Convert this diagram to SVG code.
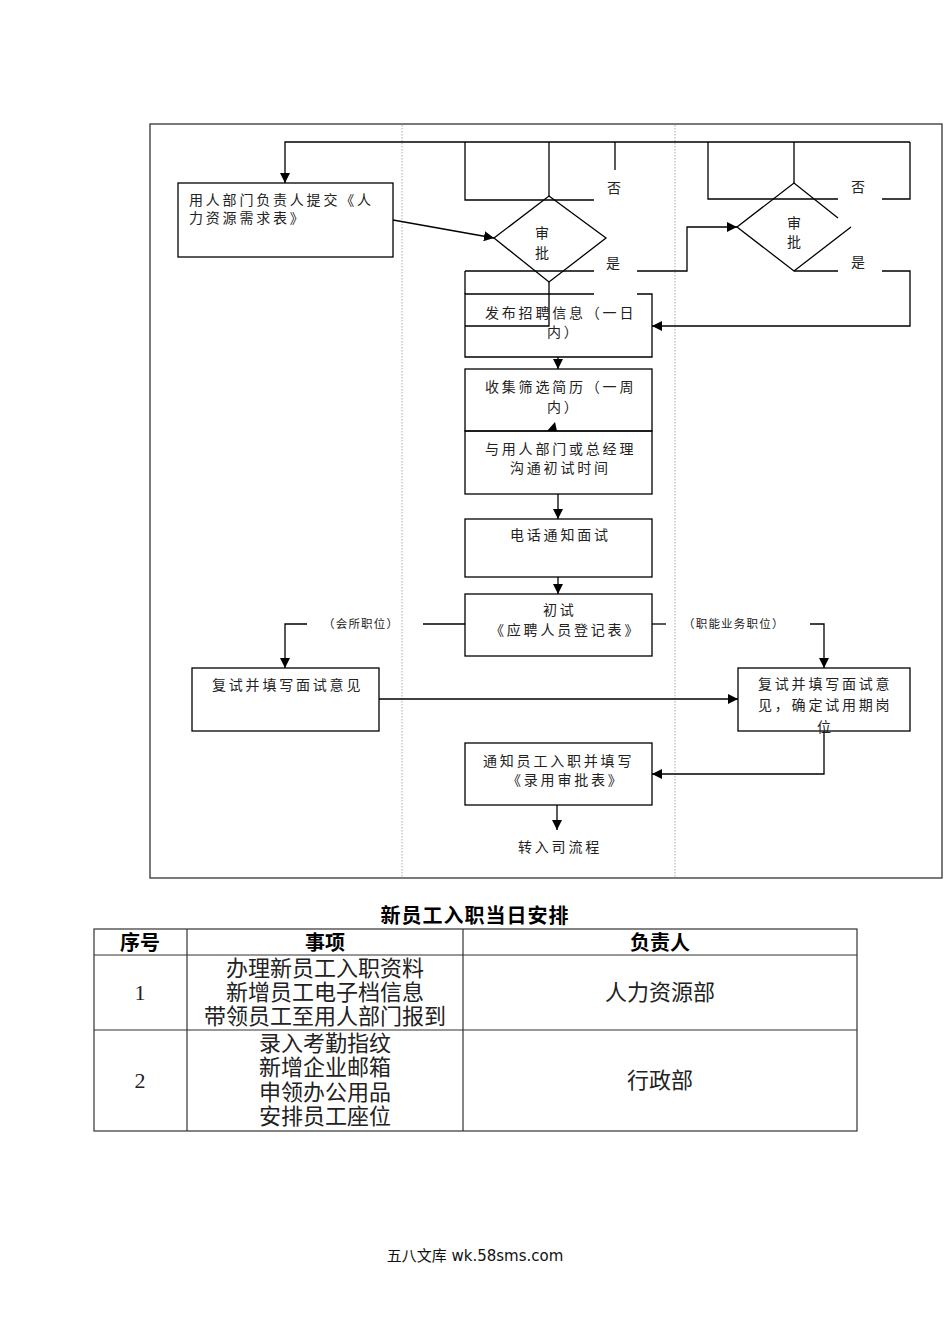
<svg xmlns="http://www.w3.org/2000/svg" width="950" height="1344" viewBox="0 0 950 1344">
<style>
.box{fill:none;stroke:#000;stroke-width:1.3}
.ln{fill:none;stroke:#000;stroke-width:1.3}
.lane{stroke:#aaa;stroke-width:1;stroke-dasharray:1.5,1.5}
.t{font-family:"Noto Sans CJK SC",sans-serif;font-size:14px;letter-spacing:2.8px;fill:#222}
.lb{font-family:"Noto Sans CJK SC",sans-serif;font-size:11.5px;letter-spacing:1.2px;fill:#222}
.tt{font-family:"Noto Sans CJK SC",sans-serif;font-size:20px;font-weight:bold;fill:#000}
.tc{font-family:"Liberation Serif","Noto Sans CJK SC",serif;font-size:22px;fill:#222}
.tb{stroke:#333;stroke-width:1.2;fill:none}
.ft{font-family:"DejaVu Sans","Noto Sans CJK SC",sans-serif;font-size:15px;fill:#111}
</style>
<defs>
<marker id="ar" viewBox="0 0 10 10" refX="10" refY="5" markerWidth="10" markerHeight="10" markerUnits="userSpaceOnUse" orient="auto">
<path d="M0,0 L10,5 L0,10 z" fill="#000"/>
</marker>
</defs>
<rect x="150" y="124" width="792" height="754" fill="none" stroke="#333" stroke-width="1.3"/>
<line class="lane" x1="402" y1="125" x2="402" y2="877"/>
<line class="lane" x1="675" y1="125" x2="675" y2="877"/>

<g id="connectors">
<path class="ln" d="M910,142 H285 V183" marker-end="url(#ar)"/>
<path class="ln" d="M465,142 V200 H594"/>
<path class="ln" d="M549,142 V196"/>
<path class="ln" d="M615,142 V170"/>
<path class="ln" d="M393,220 L494,238" marker-end="url(#ar)"/>
<path class="ln" d="M465,271 H594"/>
<path class="ln" d="M637,271 H687 V227 H737" marker-end="url(#ar)"/>
<path class="ln" d="M465,271 V294"/>
<path class="ln" d="M465,326 H549 V282"/>
<path class="ln" d="M708,142 V199 H838"/>
<path class="ln" d="M882,199 H910 V142"/>
<path class="ln" d="M794,142 V183"/>
<path class="ln" d="M794,271 H838"/>
<path class="ln" d="M882,271 H910 V326 H652" marker-end="url(#ar)"/>
<path class="ln" d="M558,357 V369" marker-end="url(#ar)"/>
<path d="M547,431 L557,431 L555,422 z" fill="#000"/>
<path class="ln" d="M558,494 V519" marker-end="url(#ar)"/>
<path class="ln" d="M558,577 V594" marker-end="url(#ar)"/>
<path class="ln" d="M465,624 H423"/>
<path class="ln" d="M307,624 H285 V668" marker-end="url(#ar)"/>
<path class="ln" d="M652,624 H666"/>
<path class="ln" d="M810,624 H824 V668" marker-end="url(#ar)"/>
<path class="ln" d="M379,699 H738" marker-end="url(#ar)"/>
<path class="ln" d="M824,731 V774 H652" marker-end="url(#ar)"/>
<path class="ln" d="M557,805 V830" marker-end="url(#ar)"/>
</g>

<g id="n-request">
<rect class="box" x="178" y="183" width="215" height="74"/>
<text class="t" x="189" y="205">用人部门负责人提交《人</text>
<text class="t" x="189" y="223">力资源需求表》</text>
</g>

<g id="n-approve1">
<path class="box" d="M549,196 L606,238 L549,282 L494,238 Z"/>
<text class="t" x="535" y="238">审</text>
<text class="t" x="535" y="258">批</text>
<text class="t" x="607" y="193">否</text>
<text class="t" x="606" y="268">是</text>
</g>

<g id="n-approve2">
<path class="box" d="M838,218 L794,183 L737,227 L794,271 L851,227"/>
<text class="t" x="787" y="228">审</text>
<text class="t" x="787" y="247">批</text>
<text class="t" x="851" y="192">否</text>
<text class="t" x="851" y="267">是</text>
</g>

<g id="n-publish">
<path class="box" d="M594,294 H465 V357 H652 V294 H637"/>
<text class="t" x="485" y="318">发布招聘信息（一日</text>
<text class="t" x="547" y="337">内）</text>
</g>

<g id="n-collect">
<rect class="box" x="465" y="369" width="187" height="62"/>
<text class="t" x="485" y="392">收集筛选简历（一周</text>
<text class="t" x="547" y="412">内）</text>
</g>

<g id="n-communicate">
<rect class="box" x="465" y="431" width="187" height="63"/>
<text class="t" x="485" y="454">与用人部门或总经理</text>
<text class="t" x="510" y="473">沟通初试时间</text>
</g>

<g id="n-phone">
<rect class="box" x="465" y="519" width="187" height="58"/>
<text class="t" x="510" y="540">电话通知面试</text>
</g>

<g id="n-first">
<rect class="box" x="465" y="594" width="187" height="62"/>
<text class="t" x="543" y="615">初试</text>
<text class="t" x="490" y="635">《应聘人员登记表》</text>
</g>

<g id="lbl-left"><text class="lb" x="323" y="628">（会所职位）</text></g>
<g id="lbl-right"><text class="lb" x="683" y="628">（职能业务职位）</text></g>

<g id="n-second-left">
<rect class="box" x="192" y="668" width="187" height="63"/>
<text class="t" x="212" y="690">复试并填写面试意见</text>
</g>

<g id="n-second-right">
<rect class="box" x="738" y="668" width="172" height="63"/>
<text class="t" x="758" y="689">复试并填写面试意</text>
<text class="t" x="758" y="710">见，确定试用期岗</text>
<text class="t" x="817" y="732">位</text>
</g>

<g id="n-notify">
<rect class="box" x="465" y="743" width="187" height="62"/>
<text class="t" x="483" y="766">通知员工入职并填写</text>
<text class="t" x="507" y="785">《录用审批表》</text>
</g>

<g id="n-transfer">
<text class="t" x="518" y="852">转入司流程</text>
</g>

<g id="table">
<text class="tt" x="475" y="923" text-anchor="middle" letter-spacing="1">新员工入职当日安排</text>
<rect class="tb" x="94" y="929" width="763" height="202"/>
<line class="tb" x1="94" y1="955" x2="857" y2="955"/>
<line class="tb" x1="94" y1="1030" x2="857" y2="1030"/>
<line class="tb" x1="187" y1="929" x2="187" y2="1131"/>
<line class="tb" x1="463" y1="929" x2="463" y2="1131"/>
<text class="tt" x="140" y="950" text-anchor="middle">序号</text>
<text class="tt" x="325" y="950" text-anchor="middle">事项</text>
<text class="tt" x="660" y="950" text-anchor="middle">负责人</text>
<text class="tc" x="140" y="1000" text-anchor="middle">1</text>
<text class="tc" x="325" y="976" text-anchor="middle">办理新员工入职资料</text>
<text class="tc" x="325" y="1000" text-anchor="middle">新增员工电子档信息</text>
<text class="tc" x="325" y="1024" text-anchor="middle">带领员工至用人部门报到</text>
<text class="tc" x="660" y="1000" text-anchor="middle">人力资源部</text>
<text class="tc" x="140" y="1088" text-anchor="middle">2</text>
<text class="tc" x="325" y="1051" text-anchor="middle">录入考勤指纹</text>
<text class="tc" x="325" y="1075" text-anchor="middle">新增企业邮箱</text>
<text class="tc" x="325" y="1100" text-anchor="middle">申领办公用品</text>
<text class="tc" x="325" y="1124" text-anchor="middle">安排员工座位</text>
<text class="tc" x="660" y="1088" text-anchor="middle">行政部</text>
</g>

<g id="footer">
<text class="ft" x="475" y="1261" text-anchor="middle">五八文库 wk.58sms.com</text>
</g>
</svg>
